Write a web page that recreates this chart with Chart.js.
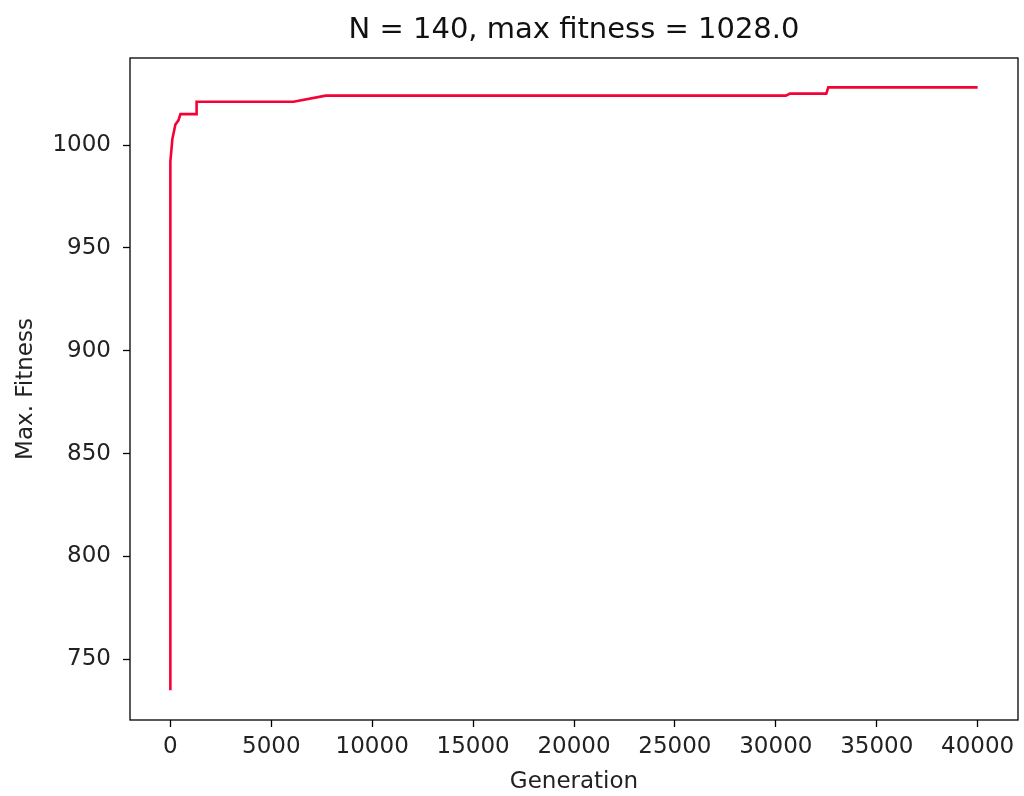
<!DOCTYPE html>
<html>
<head>
<meta charset="utf-8">
<script src="https://cdn.jsdelivr.net/npm/chart.js@4/dist/chart.umd.min.js"></script>
<style>
  html, body { margin: 0; padding: 0; background: #fff; }
  #wrap { width: 1024px; height: 796px; }
</style>
</head>
<body>
<div id="wrap"><canvas id="myChart"></canvas></div>
<script>
// data
const generations = [0, 0, 100, 250, 400, 500, 1300, 1300, 6100, 7700, 30500, 30700, 32500, 32600, 40000];
const maxFitness = [735, 992, 1003, 1010, 1012, 1015, 1015, 1021, 1021, 1024, 1024, 1025, 1025, 1028, 1028];
const xTicks = [0, 5000, 10000, 15000, 20000, 25000, 30000, 35000, 40000];
const yTicks = [750, 800, 850, 900, 950, 1000];
const titleText = 'N = 140, max fitness = 1028.0';

const lineColor = 'rgb(245, 0, 55)';
const fontFamily = 'DejaVu Sans';

// frame around the plot area + title centred over it, like matplotlib
const framePlugin = {
    id: 'frame',
    afterDraw(chart) {
        const {ctx, chartArea} = chart;
        ctx.save();
        ctx.strokeStyle = '#000';
        ctx.lineWidth = 1.3;
        ctx.strokeRect(chartArea.left, chartArea.top, chartArea.right - chartArea.left, chartArea.bottom - chartArea.top);
        ctx.fillStyle = '#111';
        ctx.font = '29px "' + fontFamily + '"';
        ctx.textAlign = 'center';
        ctx.textBaseline = 'middle';
        ctx.fillText(titleText, (chartArea.left + chartArea.right) / 2, 30);
        ctx.restore();
    }
};

const ctx = document.getElementById('myChart').getContext('2d');

const myChart = new Chart(ctx, {
    type: 'line',
    data: {
        datasets: [{
            data: generations.map((g, i) => ({x: g, y: maxFitness[i]})),
            borderColor: lineColor,
            borderWidth: 2.6,
            pointRadius: 0,
            tension: 0,
            fill: false,
        }],
    },
    plugins: [framePlugin],
    options: {
        responsive: true,
        maintainAspectRatio: false,
        animation: false,
        layout: {
            padding: {left: 0, right: 6, top: 58, bottom: 0},
        },
        scales: {
            x: {
                type: 'linear',
                min: -2000,
                max: 42000,
                afterBuildTicks: scale => { scale.ticks = xTicks.map(v => ({value: v})); },
                afterFit: scale => { scale.height = 76; },
                grid: {
                    drawOnChartArea: false,
                    drawTicks: true,
                    tickLength: 7,
                    tickWidth: 1.3,
                    color: '#000',
                },
                border: {display: false},
                ticks: {
                    color: '#222',
                    padding: 6,
                    maxRotation: 0,
                    font: {family: fontFamily, size: 23},
                    callback: v => String(v),
                },
                title: {
                    display: true,
                    text: 'Generation',
                    color: '#222',
                    font: {family: fontFamily, size: 23},
                    padding: {top: 0, bottom: 0},
                },
            },
            y: {
                min: 720.5,
                max: 1042.3,
                afterBuildTicks: scale => { scale.ticks = yTicks.map(v => ({value: v})); },
                afterFit: scale => { scale.width = 130; },
                grid: {
                    drawOnChartArea: false,
                    drawTicks: true,
                    tickLength: 7,
                    tickWidth: 1.3,
                    color: '#000',
                },
                border: {display: false},
                ticks: {
                    color: '#222',
                    padding: 12,
                    font: {family: fontFamily, size: 23},
                    callback: v => String(v),
                },
                title: {
                    display: true,
                    text: 'Max. Fitness',
                    color: '#222',
                    font: {family: fontFamily, size: 23},
                    padding: {top: 12, bottom: 0},
                },
            },
        },
        plugins: {
            legend: {display: false},
            tooltip: {enabled: false},
            title: {display: false},
        },
    },
});
</script>
</body>
</html>
